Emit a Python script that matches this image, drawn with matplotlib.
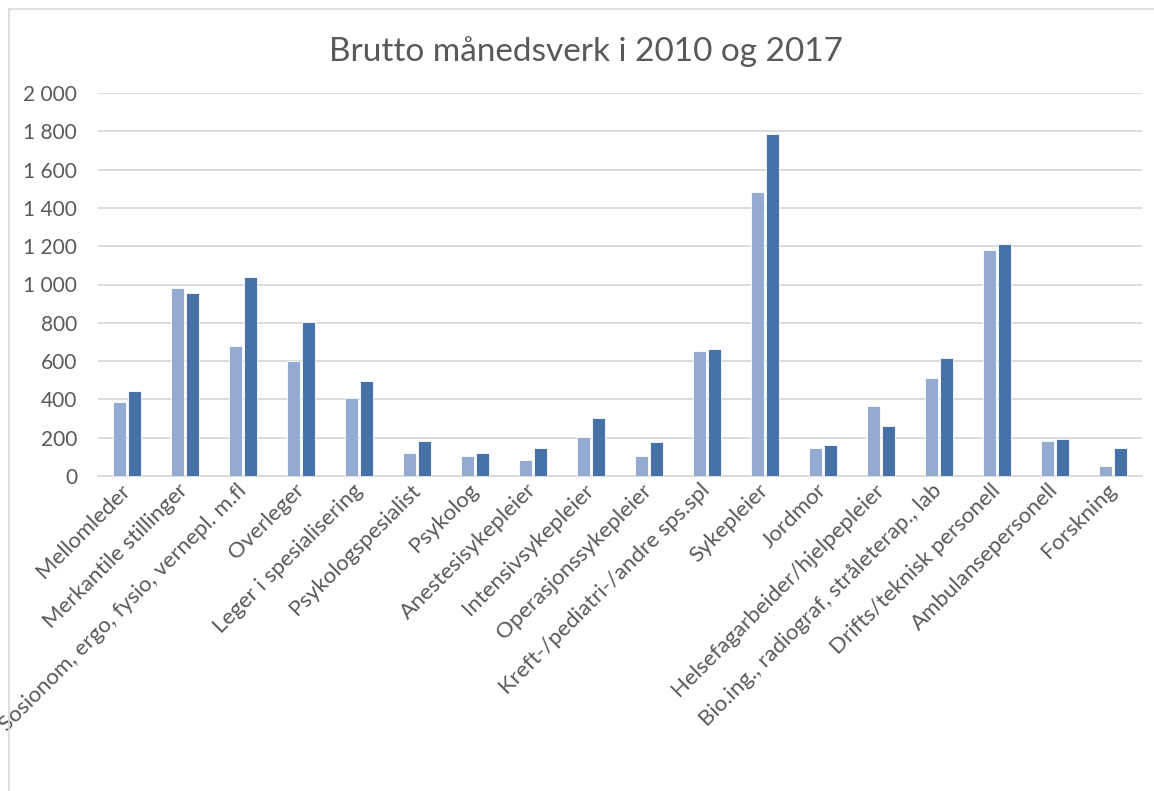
#!/usr/bin/env python3
"""Brutto maanedsverk 2010 vs 2017, grouped bars"""

import numpy as np
import matplotlib
matplotlib.use('Agg')
import matplotlib.pyplot as plt
from matplotlib.patches import Rectangle

categories = ['Mellomleder', 'Merkantile stillinger',
              'Sosionom, ergo, fysio, vernepl. m.fl', 'Overleger',
              'Leger i spesialisering', 'Psykologspesialist', 'Psykolog',
              'Anestesisykepleier', 'Intensivsykepleier',
              'Operasjonssykepleier', 'Kreft-/pediatri-/andre sps.spl',
              'Sykepleier', 'Jordmor', 'Helsefagarbeider/hjelpepleier',
              'Bio.ing., radiograf, stråleterap., lab',
              'Drifts/teknisk personell', 'Ambulansepersonell', 'Forskning']
vals_2010 = [386, 983, 680, 600, 405, 122, 106, 83, 202,
             104, 652, 1482, 148, 363, 511, 1179, 181, 50]
vals_2017 = [445, 957, 1040, 803, 494, 181, 122, 144, 304,
             177, 661, 1788, 163, 263, 617, 1212, 195, 144]
yticks = [0, 200, 400, 600, 800, 1000, 1200, 1400, 1600, 1800, 2000]

plt.rcParams['font.family'] = ['Lato', 'DejaVu Sans']
W, H = 1154, 791
fig = plt.figure(figsize=(W / 100, H / 100), dpi=100)
fig.patches.append(Rectangle((9 / W, -0.1), 1.2, 1 - 9 / H + 0.1,
                   transform=fig.transFigure, fill=False,
                   edgecolor='#D9D9D9', lw=1.2))

ax = fig.add_axes([98 / W, 1 - 476 / H, (1142 - 98) / W, (476 - 93) / H])
x = np.arange(len(categories))
w = 0.23
ax.bar(x - 0.13, vals_2010, w, color='#95AAD1', edgecolor='white', lw=0.6,
       zorder=3, label='2010')
ax.bar(x + 0.13, vals_2017, w, color='#4672A8', edgecolor='white', lw=0.6,
       zorder=3, label='2017')

ax.set_xlim(-0.5, len(categories) - 0.5)
ax.set_ylim(0, 2000)
ax.set_yticks(yticks)
ax.set_yticklabels(['{:,}'.format(v).replace(',', ' ') for v in yticks])
ax.grid(axis='y', color='#D9D9D9', lw=1.3, zorder=0)
for s in ['top', 'right', 'left']:
    ax.spines[s].set_visible(False)
ax.spines['bottom'].set_color('#D9D9D9')
ax.spines['bottom'].set_linewidth(1.3)
ax.tick_params(axis='y', length=0, pad=15, labelsize=15, labelcolor='#595959')
ax.tick_params(axis='x', length=0, pad=8)
ax.set_xticks(x)
ax.set_xticklabels(categories, rotation=45, ha='right', va='center',
                   rotation_mode='anchor', fontsize=16, color='#595959')

fig.text(586 / W, 1 - 52 / H, 'Brutto månedsverk i 2010 og 2017',
         ha='center', va='center', fontsize=24, color='#595959')

plt.savefig('out.png', dpi=100)
